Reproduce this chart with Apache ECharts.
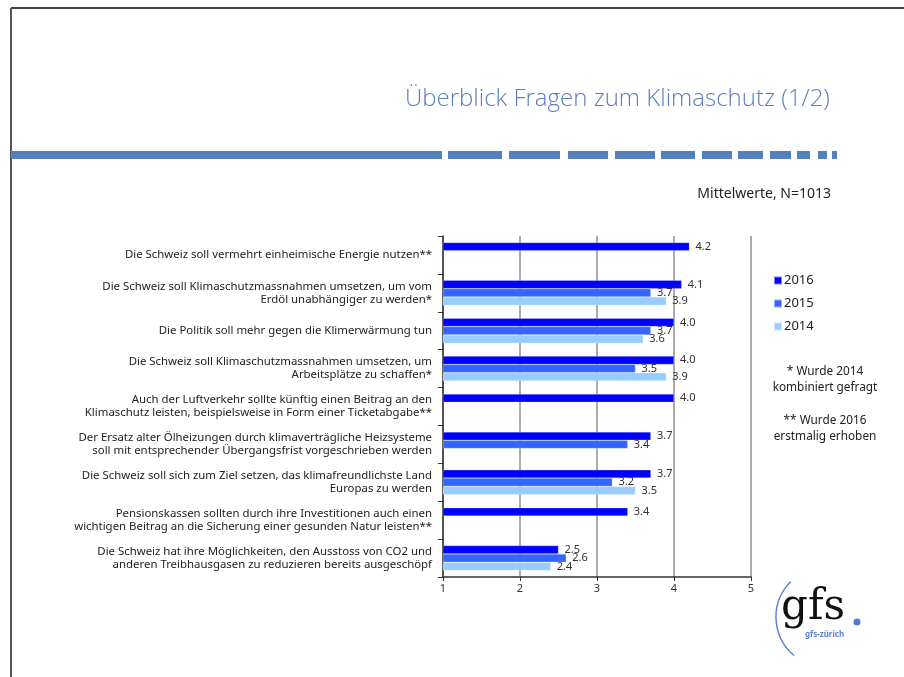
<!DOCTYPE html>
<html>
<head>
<meta charset="utf-8">
<script src="https://cdn.jsdelivr.net/npm/echarts@6/dist/echarts.min.js"></script>
<style>
    html, body { margin: 0; padding: 0; background: #fff; }
    #chart { width: 904px; height: 677px; }
</style>
</head>
<body>
<div id="chart"></div>
<script>
    // Fragen (von oben nach unten)
    const categories = [
        'Die Schweiz soll vermehrt einheimische Energie nutzen**',
        'Die Schweiz soll Klimaschutzmassnahmen umsetzen, um vom\nErdöl unabhängiger zu werden*',
        'Die Politik soll mehr gegen die Klimerwärmung tun',
        'Die Schweiz soll Klimaschutzmassnahmen umsetzen, um\nArbeitsplätze zu schaffen*',
        'Auch der Luftverkehr sollte künftig einen Beitrag an den\nKlimaschutz leisten, beispielsweise in Form einer Ticketabgabe**',
        'Der Ersatz alter Ölheizungen durch klimaverträgliche Heizsysteme\nsoll mit entsprechender Übergangsfrist vorgeschrieben werden',
        'Die Schweiz soll sich zum Ziel setzen, das klimafreundlichste Land\nEuropas zu werden',
        'Pensionskassen sollten durch ihre Investitionen auch einen\nwichtigen Beitrag an die Sicherung einer gesunden Natur leisten**',
        'Die Schweiz hat ihre Möglichkeiten, den Ausstoss von CO2 und\nanderen Treibhausgasen zu reduzieren bereits ausgeschöpf'
    ]
    const years = ['2016', '2015', '2014']
    const values2016 = [4.2, 4.1, 4.0, 4.0, 4.0, 3.7, 3.7, 3.4, 2.5]
    const values2015 = [null, 3.7, 3.7, 3.5, null, 3.4, 3.2, null, 2.6]
    const values2014 = [null, 3.9, 3.6, 3.9, null, null, 3.5, null, 2.4]
    const xTicks = [1, 2, 3, 4, 5]

    const colors = ['#0000FF', '#3366FF', '#99CCFF']
    const font = '"Noto Sans", "Open Sans", sans-serif'

    // gestrichelte Linie unter dem Titel
    const dashes = [
        [11, 442], [448, 502], [509, 560], [568, 608], [615, 655], [661, 695],
        [702, 732], [738, 763], [770, 791], [797, 810], [818, 827], [832, 837]
    ]

    const myChart = echarts.init(document.getElementById('chart'))

    const makeSeries = (name, data, i) => ({
        name: name,
        type: 'bar',
        data: data,
        barGap: '0%',
        barCategoryGap: '34%',
        itemStyle: {
            color: colors[i],
            borderColor: 'rgba(255,255,255,0.5)',
            borderWidth: 0.5
        },
        label: {
            show: true,
            position: 'right',
            distance: 6,
            color: '#333',
            fontFamily: font,
            fontSize: 11,
            formatter: (p) => p.value == null ? '' : p.value.toFixed(1)
        },
        emphasis: { disabled: true }
    })

    const graphics = [
        // Rahmen
        { type: 'line', shape: { x1: 11, y1: 8, x2: 904, y2: 8 }, style: { stroke: '#444', lineWidth: 2 } },
        { type: 'line', shape: { x1: 11, y1: 8, x2: 11, y2: 677 }, style: { stroke: '#555', lineWidth: 2 } },
        {
            type: 'text', left: 405, top: 87,
            style: { text: 'Überblick Fragen zum Klimaschutz (1/2)', fill: '#5B7EC0', font: '300 24px "Open Sans", "Noto Sans", sans-serif' }
        },
        {
            type: 'text', right: 73, top: 187,
            style: { text: 'Mittelwerte, N=1013', fill: '#222', font: '14px ' + font }
        },
        {
            type: 'text', x: 825, y: 364,
            style: { text: '* Wurde 2014\nkombiniert gefragt', fill: '#222', font: '11.8px ' + font, align: 'center', lineHeight: 16 }
        },
        {
            type: 'text', x: 825, y: 413,
            style: { text: '** Wurde 2016\nerstmalig erhoben', fill: '#222', font: '11.8px ' + font, align: 'center', lineHeight: 16 }
        },
        // Logo
        {
            type: 'arc', shape: { cx: 826, cy: 617, r: 50, startAngle: Math.PI * 0.72, endAngle: Math.PI * 1.25 },
            style: { stroke: '#5B84D6', lineWidth: 1.5, fill: null }
        },
        {
            type: 'text', x: 781, y: 587,
            style: { text: 'gfs', fill: '#111', font: '42px "DejaVu Serif", "Liberation Serif", serif' }
        },
        { type: 'circle', shape: { cx: 857, cy: 622, r: 3.5 }, style: { fill: '#4F7BD0' } },
        {
            type: 'text', x: 805, y: 631,
            style: { text: 'gfs-zürich', fill: '#5B84D6', font: 'bold 8px ' + font }
        }
    ]
    dashes.forEach(d => {
        graphics.push({ type: 'rect', shape: { x: d[0], y: 151, width: d[1] - d[0], height: 8 }, style: { fill: '#5580BE' } })
    })

    const option = {
        animation: false,
        backgroundColor: '#fff',
        grid: { left: 443, right: 153, top: 236, bottom: 100, containLabel: false },
        legend: {
            data: years,
            orient: 'vertical',
            left: 768,
            top: 268,
            icon: 'rect',
            itemWidth: 8,
            itemHeight: 8,
            itemGap: 8,
            textStyle: { color: '#222', fontFamily: font, fontSize: 13, lineHeight: 15, padding: [0, 0, 0, -3] }
        },
        xAxis: {
            type: 'value',
            min: xTicks[0],
            max: xTicks[xTicks.length - 1],
            interval: 1,
            axisLine: { show: true, lineStyle: { color: '#333', width: 1.5 } },
            axisTick: { show: true, length: 4, lineStyle: { color: '#333' } },
            axisLabel: { color: '#333', fontFamily: font, fontSize: 11, margin: 6 },
            splitLine: { show: true, lineStyle: { color: '#ABABAB', width: 2 } }
        },
        yAxis: {
            type: 'category',
            inverse: true,
            data: categories,
            axisLine: { show: true, lineStyle: { color: '#333', width: 1.5 } },
            axisTick: { show: true, length: 5, lineStyle: { color: '#333' } },
            axisLabel: { color: '#222', fontFamily: font, fontSize: 11.4, lineHeight: 13, margin: 11, align: 'right' }
        },
        series: [
            makeSeries(years[0], values2016, 0),
            makeSeries(years[1], values2015, 1),
            makeSeries(years[2], values2014, 2)
        ],
        graphic: graphics
    }
    myChart.setOption(option)
</script>
</body>
</html>
